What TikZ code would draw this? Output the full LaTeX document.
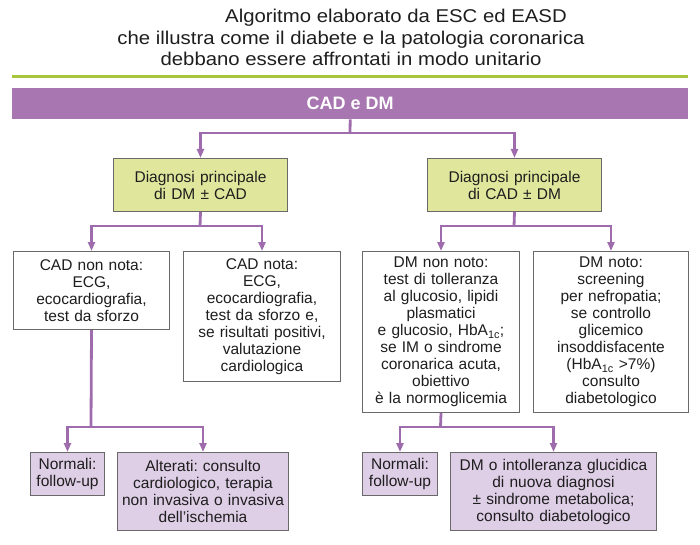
\documentclass[tikz,border=0pt]{standalone}
\usepackage{fontspec}
\setmainfont{Liberation Sans}
\newfontfamily\titlefont[FakeStretch=1.1]{Liberation Sans}
\usetikzlibrary{arrows.meta}
\frenchspacing
\definecolor{barpurple}{RGB}{168,118,176}
\definecolor{linepurple}{RGB}{158,108,172}
\definecolor{lime}{RGB}{168,198,60}
\definecolor{greenfill}{RGB}{224,230,156}
\definecolor{lilacfill}{RGB}{222,206,230}
\definecolor{boxborder}{RGB}{105,105,105}
\definecolor{txt}{RGB}{30,30,30}
\tikzset{
  box/.style={draw=boxborder, line width=1pt, anchor=north west, inner sep=0pt,
    align=center, text=txt, font=\fontsize{15.5}{17}\selectfont},
  greenbox/.style={box, fill=greenfill},
  whitebox/.style={box, fill=white},
  lilacbox/.style={box, fill=lilacfill},
  conn/.style={draw=linepurple, line width=2.8pt},
  arr/.style={conn, -{Triangle[width=7pt,length=9pt]}},
  titleline/.style={anchor=base, inner sep=0pt, text=txt, font=\titlefont\fontsize{18.5}{21}\selectfont}
}
\begin{document}
\begin{tikzpicture}[x=1pt,y=-1pt]
\useasboundingbox (0,0) rectangle (700,545);
% title
\node[titleline] (t1) at (396,23) {Algoritmo elaborato da ESC ed EASD};
\node[titleline] (t2) at (351,45) {che illustra come il diabete e la patologia coronarica};
\node[titleline] (t3) at (351,66) {debbano essere affrontati in modo unitario};
\draw[lime, line width=3pt] (12,77) -- (688,77);
% top bar
\node[fill=barpurple, anchor=north west, minimum width=676pt, minimum height=31pt, inner sep=0pt,
  text=white, font=\bfseries\fontsize{18}{20}\selectfont] (bar) at (12,88) {CAD e DM};
% green boxes
\node[greenbox, minimum width=174pt, minimum height=53pt, text width=174pt] (g1) at (113,158) {Diagnosi principale\\di DM ± CAD};
\node[greenbox, minimum width=174pt, minimum height=53pt, text width=174pt] (g2) at (427,158) {Diagnosi principale\\di CAD ± DM};
% white boxes
\node[whitebox, minimum width=156pt, minimum height=78pt, text width=156pt] (a) at (13,251) {CAD non nota:\\ECG,\\ecocardiografia,\\test da sforzo};
\node[whitebox, minimum width=157pt, minimum height=130pt, text width=157pt] (b) at (183,251) {CAD nota:\\ECG,\\ecocardiografia,\\test da sforzo e,\\se risultati positivi,\\valutazione\\cardiologica};
\node[whitebox, minimum width=157pt, minimum height=161pt, text width=157pt] (c) at (362,251) {DM non noto:\\test di tolleranza\\al glucosio, lipidi\\plasmatici\\e glucosio, HbA\textsubscript{1c};\\se IM o sindrome\\coronarica acuta,\\obiettivo\\è la normoglicemia};
\node[whitebox, minimum width=155pt, minimum height=161pt, text width=155pt] (d) at (533,251) {DM noto:\\screening\\per nefropatia;\\se controllo\\glicemico\\insoddisfacente\\(HbA\textsubscript{1c} >7\%)\\consulto\\diabetologico};
% bottom boxes
\node[lilacbox, minimum width=74pt, minimum height=43pt, text width=74pt] (n1) at (30,452) {Normali:\\follow-up};
\node[lilacbox, minimum width=171pt, minimum height=78pt, text width=171pt] (alt) at (117,452) {Alterati: consulto\\cardiologico, terapia\\non invasiva o invasiva\\dell’ischemia};
\node[lilacbox, minimum width=75pt, minimum height=43pt, text width=75pt] (n2) at (362,452) {Normali:\\follow-up};
\node[lilacbox, minimum width=206pt, minimum height=78pt, text width=206pt] (dmb) at (450,452) {DM o intolleranza glucidica\\di nuova diagnosi\\± sindrome metabolica;\\consulto diabetologico};
% connectors level 1
\coordinate (j0) at (350,133);
\draw[conn] (bar.south) -- (j0);
\draw[arr] (j0) -| (g1.north);
\draw[arr] (j0) -| (g2.north);
% level 2
\coordinate (j1) at (200,226);
\coordinate (j2) at (514,226);
\draw[conn] (g1.south) -- (j1);
\draw[arr] (j1) -| (a.north);
\draw[arr] (j1) -| (b.north);
\draw[conn] (g2.south) -- (j2);
\draw[arr] (j2) -| (c.north);
\draw[arr] (j2) -| (d.north);
% level 3
\coordinate (j3) at (91,427);
\coordinate (j4) at (440.5,427);
\draw[conn] (a.south) -- (j3);
\draw[arr] (j3) -| (n1.north);
\draw[arr] (j3) -| (alt.north);
\draw[conn] (c.south) -- (j4);
\draw[arr] (j4) -| (n2.north);
\draw[arr] (j4) -| (dmb.north);
\end{tikzpicture}
\end{document}
